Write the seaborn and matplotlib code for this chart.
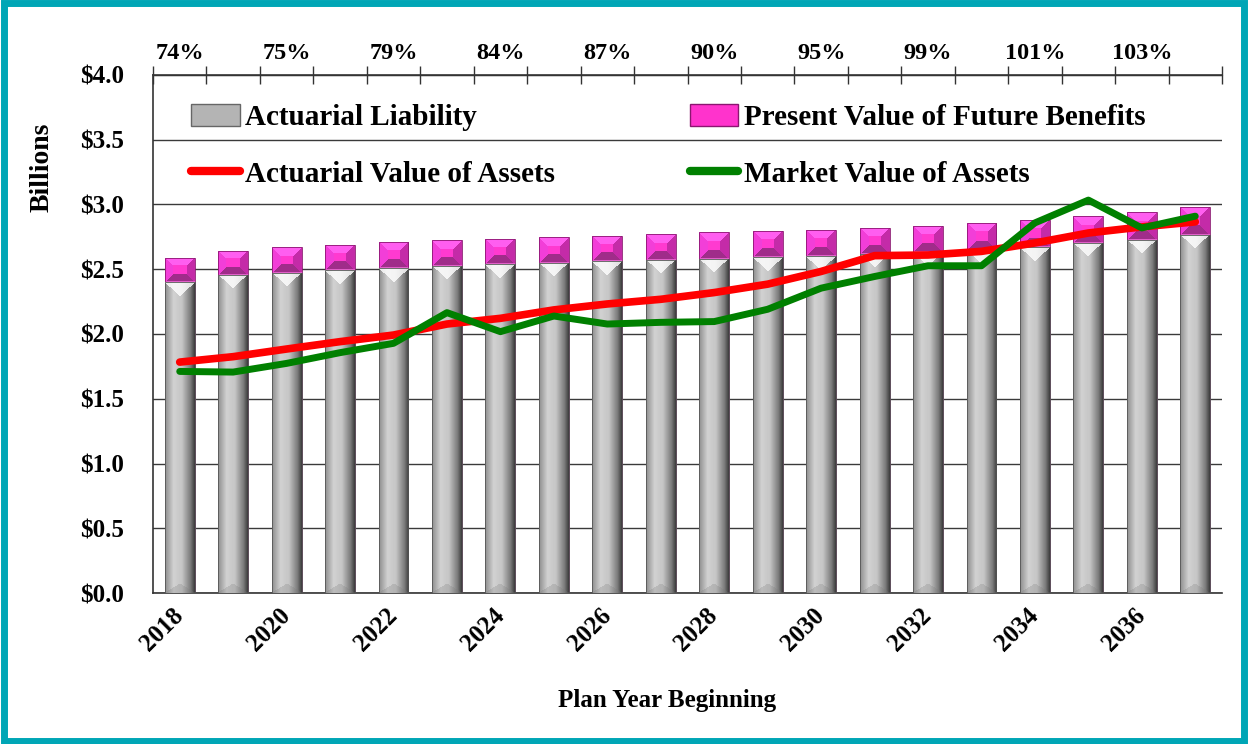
import numpy as np
import pandas as pd
import matplotlib
matplotlib.use("Agg")
import matplotlib.pyplot as plt
import seaborn as sns
from matplotlib.patches import Patch, Rectangle
from matplotlib.lines import Line2D
from matplotlib.colors import to_rgb

# values ($ billions)
years = [2018, 2019, 2020, 2021, 2022, 2023, 2024, 2025, 2026, 2027,
         2028, 2029, 2030, 2031, 2032, 2033, 2034, 2035, 2036, 2037]
liability = [2.400, 2.456, 2.474, 2.492, 2.508, 2.528, 2.539, 2.552, 2.562, 2.572,
             2.581, 2.592, 2.599, 2.620, 2.633, 2.646, 2.669, 2.703, 2.729, 2.767]
pvfb = [2.590, 2.644, 2.670, 2.691, 2.709, 2.724, 2.735, 2.747, 2.760, 2.771,
        2.786, 2.798, 2.806, 2.822, 2.837, 2.858, 2.884, 2.910, 2.943, 2.984]
ava = [1.783, 1.825, 1.884, 1.941, 1.992, 2.077, 2.121, 2.186, 2.232, 2.268,
       2.320, 2.385, 2.483, 2.605, 2.610, 2.638, 2.703, 2.780, 2.827, 2.866]
mva = [1.711, 1.706, 1.773, 1.856, 1.928, 2.165, 2.018, 2.139, 2.077, 2.090,
       2.096, 2.191, 2.354, 2.444, 2.527, 2.527, 2.858, 3.034, 2.819, 2.910]
funded_labels = ["74%", "75%", "79%", "84%", "87%", "90%", "95%", "99%", "101%", "103%"]

df = pd.DataFrame({"Year": [str(y) for y in years], "AL": liability, "PVFB": pvfb,
                   "AVA": ava, "MVA": mva})
df["pos"] = np.arange(len(df))

sns.set_style("white")
plt.rcParams["font.family"] = ["Liberation Serif", "DejaVu Serif"]
plt.rcParams["font.weight"] = "bold"
plt.rcParams["text.color"] = "black"
plt.rcParams["xtick.color"] = "black"
plt.rcParams["ytick.color"] = "black"

W_FIG, H_FIG = 1248, 744
ax_l, ax_r, ax_t, ax_b = 153, 1222, 75, 593
fig = plt.figure(figsize=(W_FIG / 100, H_FIG / 100), dpi=100)
ax = fig.add_axes([ax_l / W_FIG, 1 - ax_b / H_FIG, (ax_r - ax_l) / W_FIG, (ax_b - ax_t) / H_FIG])

bw = 0.56
sns.barplot(data=df, x="Year", y="PVFB", color="#ff33cc", width=bw, ax=ax, zorder=2)
n_pink = len(ax.patches)
sns.barplot(data=df, x="Year", y="AL", color="#b0b0b0", width=bw, ax=ax, zorder=3)

ax.set_xlim(-0.5, len(years) - 0.5)
ax.set_ylim(0, 4.0)
px_x = (ax_r - ax_l) / len(years)   # pixels per category
px_y = (ax_b - ax_t) / 4.0          # pixels per $1


def ramp(stops, u):
    pos = [s[0] for s in stops]
    cols = np.array([to_rgb(s[1]) for s in stops])
    return np.stack([np.interp(u, pos, cols[:, k]) for k in range(3)], axis=-1)


gray_stops = [(0, "#8c8c8c"), (0.3, "#d2d2d2"), (0.55, "#c6c6c6"), (0.85, "#7a7a7a"), (1, "#3a3a3a")]


def gray_image(wp, hp):
    nx, ny = max(int(wp), 4), max(int(hp), 4)
    u = (np.arange(nx) + 0.5) / nx
    img = np.repeat(ramp(gray_stops, u)[None, :, :], ny, axis=0)
    rows = np.arange(ny)[:, None]
    shape = (1 - np.abs(2 * u - 1))[None, :]
    top = rows < nx * 0.45 * shape
    img[top] = img[top] * 0.2 + 0.8
    bot = (ny - 1 - rows) < nx * 0.3 * shape
    img[bot] = img[bot] * 0.75 + 0.12
    return img


def pink_image(wp, hp):
    nx, ny = max(int(wp), 4), max(int(hp), 4)
    xx, yy = np.meshgrid(np.arange(nx) + 0.5, np.arange(ny) + 0.5)
    d = np.stack([yy, xx, nx - xx, ny - yy])  # top, left, right, bottom
    side = np.argmin(d, axis=0)
    depth = np.min(d, axis=0)
    cols = np.array([to_rgb(c) for c in ["#ff5ef0", "#f23ed8", "#c42ba8", "#a02c8a"]])
    img = cols[side]
    flat = depth > min(nx, ny) * 0.34
    img[flat] = to_rgb("#ff3ad0")
    img[-1:, :] = to_rgb("#e060c8")
    return img


for i, p in enumerate(ax.patches):
    x0, y0 = p.get_x(), p.get_y()
    w, h = p.get_width(), p.get_height()
    if i < n_pink:
        # only the visible cap above the liability bar needs the bevel look
        cap0 = liability[i]
        img = pink_image(w * px_x, (h - cap0) * px_y)
        ext = [x0, x0 + w, cap0, y0 + h]
        edge = "#8a1670"
    else:
        img = gray_image(w * px_x, h * px_y)
        ext = [x0, x0 + w, y0, y0 + h]
        edge = "#555555"
    im = ax.imshow(img, aspect="auto", extent=ext, zorder=p.get_zorder(),
                   interpolation="nearest", origin="upper")
    im.set_clip_path(p)
    p.set_edgecolor(edge)
    p.set_linewidth(0.6)
    p.set_facecolor("none")
    p.set_zorder(p.get_zorder() + 0.1)

sns.lineplot(data=df, x="pos", y="AVA", color="#ff0000", linewidth=5.5, ax=ax,
             zorder=5, sort=False, solid_capstyle="round")
sns.lineplot(data=df, x="pos", y="MVA", color="#008000", linewidth=5.0, ax=ax,
             zorder=6, sort=False, solid_capstyle="round")

ax.set_xlim(-0.5, len(years) - 0.5)
ax.set_ylim(0, 4.0)
ax.set_yticks(np.arange(0, 4.01, 0.5))
ax.set_yticklabels([f"${v:.1f}" for v in np.arange(0, 4.01, 0.5)], fontsize=18,
                   fontweight="bold")
ax.yaxis.grid(True, color="#3a3a3a", linewidth=1.0)
ax.set_axisbelow(True)
ax.tick_params(axis="y", length=6, width=1, color="#333333", pad=15)

ax.set_xticks(range(0, len(years), 2))
ax.set_xticklabels([str(y) for y in years[::2]], rotation=45, ha="right",
                   va="center", rotation_mode="anchor", fontsize=18, fontweight="bold")
ax.tick_params(axis="x", length=0, pad=14)
ax.set_xlabel("")
ax.set_ylabel("")

for s in ["left", "bottom", "top"]:
    ax.spines[s].set_visible(True)
    ax.spines[s].set_color("#333333")
    ax.spines[s].set_linewidth(1.2)
ax.spines["right"].set_visible(False)

top = ax.secondary_xaxis("top")
top.set_xticks(range(0, len(years), 2))
top.set_xticklabels(funded_labels, fontsize=17.5, fontweight="bold")
top.set_xticks(np.arange(-0.5, len(years), 1), minor=True)
top.tick_params(which="major", length=0, pad=8)
top.tick_params(which="minor", length=13, direction="inout", width=1, color="#333333")
top.spines["top"].set_color("#333333")

handles = [
    Patch(facecolor="#b4b4b4", edgecolor="#666666"),
    Line2D([], [], color="#ff0000", linewidth=6, solid_capstyle="round"),
    Patch(facecolor="#ff33cc", edgecolor="#8a1670"),
    Line2D([], [], color="#008000", linewidth=6, solid_capstyle="round"),
]
labels = ["Actuarial Liability", "Actuarial Value of Assets",
          "Present Value of Future Benefits", "Market Value of Assets"]
ax.legend(handles, labels, ncol=2, loc="upper left", bbox_to_anchor=(0.036, 0.944),
          frameon=False, prop={"weight": "bold", "size": 21},
          handlelength=1.65, handleheight=0.8, handletextpad=0.2,
          columnspacing=4.6, labelspacing=1.0, borderpad=0, borderaxespad=0)

fig.text(42 / W_FIG, 1 - 167 / H_FIG, "Billions", rotation=90, ha="center", va="center",
         fontsize=20, fontweight="bold")
fig.text(667 / W_FIG, 1 - 701 / H_FIG, "Plan Year Beginning", ha="center", va="center",
         fontsize=18, fontweight="bold")

fig.add_artist(Rectangle((0.003, 0.004), 0.994, 0.992, transform=fig.transFigure,
                         fill=False, edgecolor="#00a6b6", linewidth=5))

fig.savefig("out.png", dpi=100)
